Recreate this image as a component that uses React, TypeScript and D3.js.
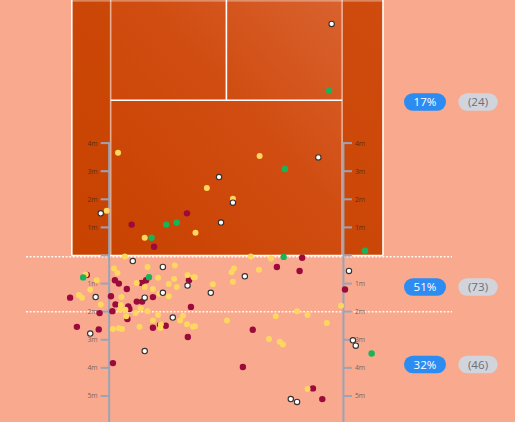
import React from "react";
import * as d3 from "d3";

// Landing positions: [x across court in metres from left doubles sideline, distance from baseline in metres (+ inside court, - beyond baseline)]
const crimsonShots: [number, number][] = [
  [4.06, 1.5], [2.11, 1.1], [2.9, 0.31], [8.12, -0.08],
  [0.53, -0.69], [1.52, -0.88], [1.66, -1.0], [2.46, -0.98], [2.62, -0.88], [4.13, -0.88],
  [1.94, -1.19], [2.86, -1.48], [1.38, -1.45], [2.29, -1.64], [2.48, -1.64], [1.54, -1.74],
  [1.99, -1.81], [4.2, -1.83], [1.43, -1.98], [2.03, -1.9], [7.23, -0.41], [8.03, -0.55],
  [9.63, -1.21], [-0.06, -1.5],
  [0.98, -2.05], [1.96, -2.26], [3.31, -2.5], [2.86, -2.57], [3.11, -2.47], [0.18, -2.54],
  [0.95, -2.63], [4.09, -2.9], [6.38, -2.64], [1.45, -3.83], [6.03, -3.97], [8.5, -4.73], [8.83, -5.11],
];
const yellowShots: [number, number][] = [
  [1.63, 3.66], [6.62, 3.54], [4.76, 2.4], [5.68, 2.02], [1.23, 1.59], [4.36, 0.81], [2.57, 0.63],
  [1.87, -0.04], [6.31, -0.04], [7.02, -0.11],
  [3.63, -0.36], [1.49, -0.46], [1.61, -0.62], [2.67, -0.41], [0.49, -0.68], [0.88, -0.88],
  [2.29, -0.98], [3.04, -0.79], [3.61, -0.84], [3.42, -1.01], [4.08, -0.69], [4.29, -0.77],
  [3.7, -1.12], [2.57, -1.12], [2.86, -1.19], [0.65, -1.22], [0.25, -1.41], [0.36, -1.5],
  [3.09, -1.36], [3.42, -1.45], [1.75, -1.48], [1.02, -1.74], [1.73, -1.76], [2.43, -1.88],
  [2.67, -1.98], [1.7, -1.93], [1.89, -1.93], [5.72, -0.46], [5.63, -0.6], [6.6, -0.51],
  [4.34, -0.77], [5.68, -0.93], [4.97, -1.02], [9.49, -1.79], [7.94, -1.98],
  [2.25, -2.05], [3.04, -2.12], [1.92, -2.16], [3.92, -2.14], [2.86, -2.31], [3.82, -2.31],
  [3.14, -2.45], [2.39, -2.54], [4.06, -2.45], [4.27, -2.54], [1.45, -2.62], [1.66, -2.59],
  [1.77, -2.62], [8.31, -2.12], [7.19, -2.16], [5.47, -2.31], [8.99, -2.4], [4.34, -2.52],
  [6.95, -2.97], [7.33, -3.07], [7.44, -3.17], [8.31, -4.75], [3.12, -2.58],
];
const greenShots: [number, number][] = [
  [9.07, 5.86], [7.51, 3.08], [3.33, 1.1], [3.7, 1.17], [2.81, 0.63], [10.34, 0.17], [7.47, -0.05],
  [0.4, -0.78], [2.72, -0.77], [10.57, -3.49],
];
const whiteShots: [number, number][] = [
  [9.16, 8.24], [8.69, 3.49], [5.19, 2.79], [5.68, 1.88], [1.02, 1.5], [5.26, 1.17], [2.15, -0.2],
  [3.21, -0.41], [6.1, -0.74], [9.77, -0.55], [4.08, -1.07], [4.9, -1.33], [0.84, -1.48],
  [3.21, -1.33], [2.57, -1.5],
  [3.56, -2.21], [0.65, -2.78], [9.91, -3.02], [10.01, -3.21], [2.57, -3.4], [7.72, -5.11], [7.94, -5.21],
];

const zoneNames = ["in court", "0–2m beyond", "2m+ beyond"];
const zonePercents = [17, 51, 32];
const zoneCounts = [24, 73, 46];

const upperTicks = [0, 1, 2, 3, 4];
const lowerTicks = [0, -1, -2, -3, -4, -5];

// Court geometry (metres)
const COURT_W = 10.97;
const ALLEY = 1.37;
const SERVICE_DIST = 5.49; // baseline to service line

const W = 515;
const H = 422;

export default function App() {
  const x = d3.scaleLinear().domain([0, COURT_W]).range([71.8, 383]);
  const y = d3.scaleLinear().domain([0, -5]).range([255.5, 396]);

  const courtTop = 0;
  const baseY = y(0);
  const sL = x(ALLEY);
  const sR = x(COURT_W - ALLEY) - 2;
  const serviceY = y(SERVICE_DIST) - 1;
  const centerX = (sL + sR) / 2;

  const leftAxisX = sL - 1.5;
  const rightAxisX = sR + 1.3;

  const badgeY = [102, 287, 364.5];
  const font = "'Open Sans', 'Segoe UI', sans-serif";

  const dots = (data: [number, number][], fill: string, r: number, stroke?: string) =>
    data.map((d, i) => (
      <circle
        key={fill + i}
        cx={x(d[0])}
        cy={y(d[1])}
        r={r}
        fill={fill}
        stroke={stroke || "none"}
        strokeWidth={stroke ? 1.1 : 0}
      />
    ));

  const tickLabel = (t: number) => `${Math.abs(t)}m`;

  return (
    <svg
      width={W}
      height={H}
      style={{ position: "absolute", left: 0, top: 0, display: "block" }}
      fontFamily={font}
    >
      <defs>
        <linearGradient id="courtGrad" x1="0" y1="1" x2="1" y2="0">
          <stop offset="0" stopColor="#C84200" />
          <stop offset="0.55" stopColor="#D04C10" />
          <stop offset="1" stopColor="#D9622F" />
        </linearGradient>
        <linearGradient id="alleyGrad" x1="0" y1="1" x2="1" y2="0">
          <stop offset="0" stopColor="#C84300" />
          <stop offset="1" stopColor="#CF4B0E" />
        </linearGradient>
      </defs>
      <rect x={0} y={0} width={W} height={H} fill="#F8A98E" />

      {/* court */}
      <rect x={x(0)} y={courtTop} width={x(COURT_W) - x(0)} height={baseY - courtTop} fill="url(#alleyGrad)" />
      <rect x={sL} y={courtTop} width={sR - sL} height={baseY - courtTop} fill="url(#courtGrad)" />
      <g stroke="#ffffff" fill="none">
        <line x1={x(0)} x2={x(0)} y1={courtTop} y2={baseY} strokeWidth={1.6} />
        <line x1={x(COURT_W)} x2={x(COURT_W)} y1={courtTop} y2={baseY} strokeWidth={1.6} />
        <line x1={x(0)} x2={x(COURT_W)} y1={baseY} y2={baseY} strokeWidth={1.6} />
        <line x1={x(0)} x2={x(COURT_W)} y1={0.8} y2={0.8} strokeWidth={1.2} strokeOpacity={0.45} />
        <line x1={sL} x2={sL} y1={courtTop} y2={baseY} strokeWidth={1.6} strokeOpacity={0.55} />
        <line x1={sR} x2={sR} y1={courtTop} y2={baseY} strokeWidth={1.6} strokeOpacity={0.55} />
        <line x1={sL} x2={sR} y1={serviceY} y2={serviceY} strokeWidth={1.6} />
        <line x1={centerX} x2={centerX} y1={courtTop} y2={serviceY} strokeWidth={1.6} />
      </g>

      {/* zone separators */}
      <g stroke="#ffffff" strokeWidth={1.4} strokeDasharray="2,1.6" strokeOpacity={0.9}>
        <line x1={26} x2={452} y1={baseY + 1.2} y2={baseY + 1.2} />
        <line x1={26} x2={452} y1={y(-2)} y2={y(-2)} />
      </g>

      {/* distance scales */}
      {[leftAxisX, rightAxisX].map((ax, k) => (
        <g key={"axis" + k}>
          <line x1={ax} x2={ax} y1={y(4) - 1} y2={H} stroke="#9AA4B8" strokeWidth={2} />
          {upperTicks.concat(lowerTicks.slice(1)).map((t) => (
            <g key={t}>
              <line
                x1={k === 0 ? ax - 8.5 : ax}
                x2={k === 0 ? ax : ax + 8.5}
                y1={y(t)}
                y2={y(t)}
                stroke="#9AA4B8"
                strokeWidth={2}
              />
              {t !== 0 && (
                <text
                  x={k === 0 ? ax - 11.5 : ax + 11.5}
                  y={y(t) + 2.4}
                  fontSize={6.8}
                  textAnchor={k === 0 ? "end" : "start"}
                  fill={t > 0 ? "#3a2418" : "#5a5350"}
                  fillOpacity={t > 0 ? 0.8 : 0.85}
                >
                  {tickLabel(t)}
                </text>
              )}
            </g>
          ))}
        </g>
      ))}

      {/* shots */}
      {dots(crimsonShots, "#9C0A3C", 3.2)}
      {dots(yellowShots, "#FFD660", 3.0)}
      {dots(greenShots, "#19B45A", 3.2)}
      {dots(whiteShots, "#FFFFFF", 2.7, "#333333")}

      {/* zone badges */}
      {zoneNames.map((z, i) => (
        <g key={z}>
          <rect x={404} y={badgeY[i] - 8.8} width={42} height={17.6} rx={8.8} fill="#2D8CF2" />
          <text x={425} y={badgeY[i] + 4} textAnchor="middle" fontSize={11.6} fill="#ffffff">
            {zonePercents[i]}%
          </text>
          <rect x={458.3} y={badgeY[i] - 8.8} width={39.4} height={17.6} rx={8.8} fill="#D1D4DB" />
          <text x={478} y={badgeY[i] + 4} textAnchor="middle" fontSize={11.6} fill="#6A6F7C">
            ({zoneCounts[i]})
          </text>
        </g>
      ))}
    </svg>
  );
}
